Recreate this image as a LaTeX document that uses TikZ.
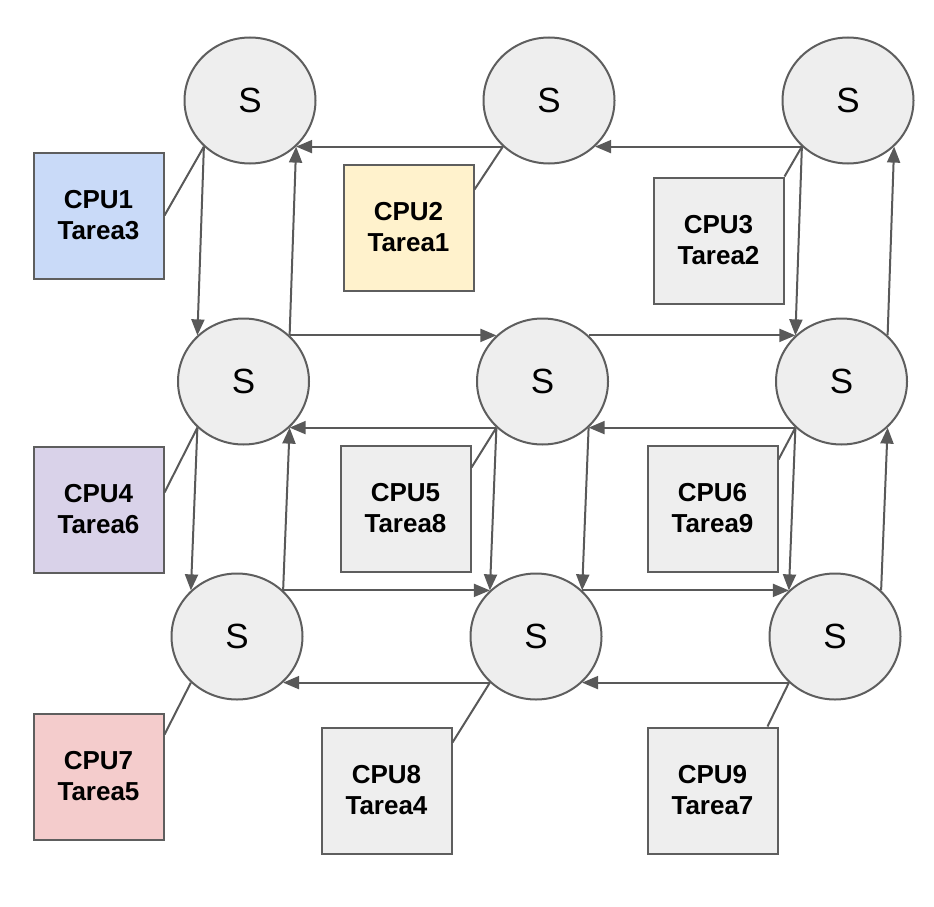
\documentclass[tikz,border=0pt]{standalone}
\usepackage{fontspec}
\setmainfont{Liberation Sans}
\usetikzlibrary{arrows.meta,shapes.geometric,calc}
\definecolor{linegray}{HTML}{595959}
\definecolor{edgegray}{HTML}{5E5E5E}
\definecolor{nodegray}{HTML}{EEEEEE}
\definecolor{cpublue}{HTML}{C9DAF8}
\definecolor{cpuyellow}{HTML}{FFF2CC}
\definecolor{cpupurple}{HTML}{D9D2E9}
\definecolor{cpured}{HTML}{F4CCCC}
\begin{document}
\begin{tikzpicture}[x=1pt,y=-1pt,
  switch/.style={ellipse, draw=edgegray, fill=nodegray, line width=2pt,
    minimum width=131pt, minimum height=126pt, inner sep=0pt,
    font=\fontsize{35}{40}\selectfont},
  cpu/.style={rectangle, draw=edgegray, fill=#1, line width=2pt,
    minimum width=130pt, minimum height=126pt, inner sep=0pt, align=center,
    font=\bfseries\fontsize{26}{31}\selectfont},
  cpu/.default=nodegray,
  link/.style={draw=linegray, line width=2pt, -{Triangle[length=16pt,width=13pt]}},
  attach/.style={draw=linegray, line width=2pt}]
\useasboundingbox (0,0) rectangle (934,907);

% switches
\node[switch] (S1) at (250,100.5) {S};
\node[switch] (S2) at (549,100.5) {S};
\node[switch] (S3) at (848,100.5) {S};
\node[switch] (S4) at (243.5,381.5) {S};
\node[switch] (S5) at (542.5,381.5) {S};
\node[switch] (S6) at (841.5,381.5) {S};
\node[switch] (S7) at (237,636.5) {S};
\node[switch] (S8) at (536,636.5) {S};
\node[switch] (S9) at (835,636.5) {S};

% processors
\node[cpu=cpublue]   (C1) at (98.5,215.5)  {CPU1\\Tarea3};
\node[cpu=cpuyellow] (C2) at (408.5,227.5) {CPU2\\Tarea1};
\node[cpu]           (C3) at (718.5,240.5) {CPU3\\Tarea2};
\node[cpu=cpupurple] (C4) at (98.5,509.5)  {CPU4\\Tarea6};
\node[cpu]           (C5) at (405.5,508.5) {CPU5\\Tarea8};
\node[cpu]           (C6) at (712.5,508.5) {CPU6\\Tarea9};
\node[cpu=cpured]    (C7) at (98.5,776.5)  {CPU7\\Tarea5};
\node[cpu]           (C8) at (386.5,790.5) {CPU8\\Tarea4};
\node[cpu]           (C9) at (712.5,790.5) {CPU9\\Tarea7};

% processor to switch attachments
\draw[attach] (C1.east) -- (S1.225);
\draw[attach] ($(C2.north east)+(0,26)$) -- (S2.225);
\draw[attach] (C3.north east) -- (S3.225);
\draw[attach] ($(C4.north east)+(0,47)$) -- (S4.225);
\draw[attach] ($(C5.north east)+(0,23)$) -- (S5.225);
\draw[attach] ($(C6.north east)+(0,15)$) -- (S6.225);
\draw[attach] ($(C7.north east)+(0,22)$) -- (S7.225);
\draw[attach] ($(C8.north east)+(0,16)$) -- (S8.225);
\draw[attach] ($(C9.north east)+(-11,0)$) -- (S9.225);

% first row
\draw[link] (S2.225) -- (S1.315);
\draw[link] (S3.225) -- (S2.315);
% first to second row
\draw[link] (S1.225) -- (S4.135);
\draw[link] (S4.45) -- (S1.315);
\draw[link] (S3.225) -- (S6.135);
\draw[link] (S6.45) -- (S3.315);
% second row
\draw[link] (S4.45) -- (S5.135);
\draw[link] (S5.45) -- (S6.135);
\draw[link] (S5.225) -- (S4.315);
\draw[link] (S6.225) -- (S5.315);
% second to third row
\draw[link] (S4.225) -- (S7.135);
\draw[link] (S7.45) -- (S4.315);
\draw[link] (S5.225) -- (S8.135);
\draw[link] (S5.315) -- (S8.45);
\draw[link] (S6.225) -- (S9.135);
\draw[link] (S9.45) -- (S6.315);
% third row
\draw[link] (S7.45) -- (S8.135);
\draw[link] (S8.45) -- (S9.135);
\draw[link] (S8.225) -- (S7.315);
\draw[link] (S9.225) -- (S8.315);
\end{tikzpicture}
\end{document}
